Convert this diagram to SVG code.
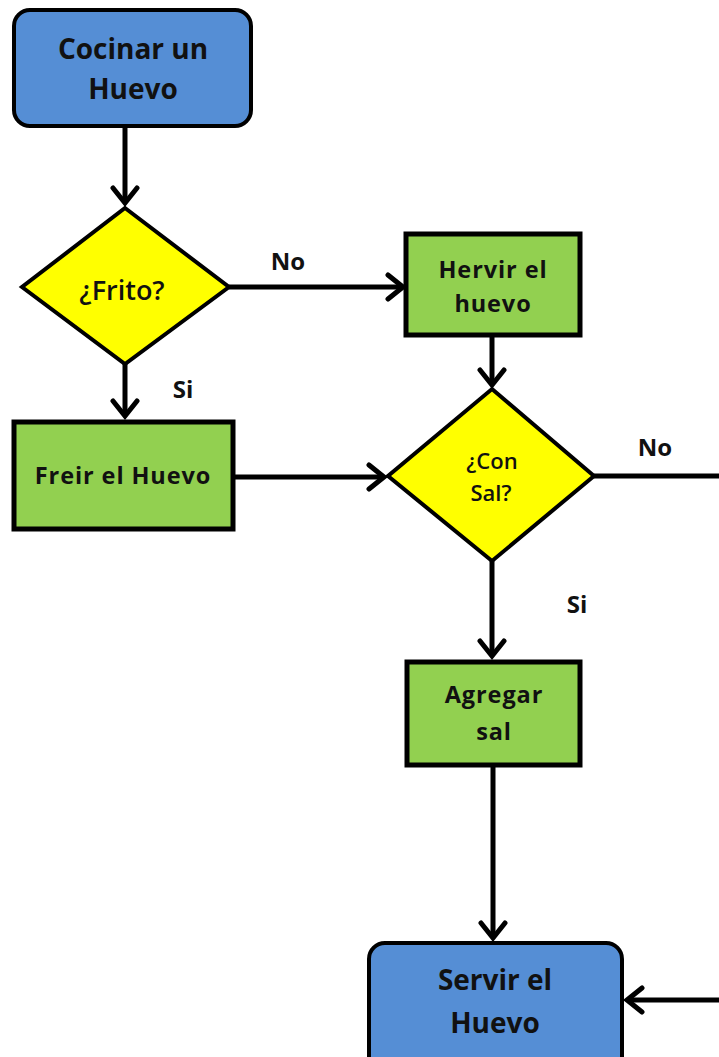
<svg xmlns="http://www.w3.org/2000/svg" width="719" height="1057" viewBox="0 0 719 1057">
<defs>
<style>
.term{fill:#558ED5;stroke:#000;stroke-width:4}
.proc{fill:#92D050;stroke:#000;stroke-width:5}
.dec{fill:#FFFF00;stroke:#000;stroke-width:4;stroke-linejoin:miter}
.t{font-family:"Open Sans","Liberation Sans",sans-serif;font-weight:bold;fill:#111;text-anchor:middle}
.big{font-size:28px}
.mid{font-size:23.5px;letter-spacing:0.9px}
.q{font-family:"Open Sans","Liberation Sans",sans-serif;font-weight:600;fill:#111;text-anchor:middle}
.lbl{font-family:"Open Sans","Liberation Sans",sans-serif;font-weight:bold;fill:#111;text-anchor:middle;font-size:24px}
.c{fill:none;stroke:#000;stroke-width:5}
</style>
<marker id="arr" markerUnits="userSpaceOnUse" markerWidth="30" markerHeight="30" viewBox="-20 -15 24 30" refX="0" refY="0" orient="auto">
<path d="M-15,-12 L0,0 L-15,12" fill="none" stroke="#000" stroke-width="5" stroke-linejoin="miter" stroke-linecap="round"/>
</marker>
</defs>
<g id="connectors">
<line class="c" x1="125" y1="126" x2="125" y2="203" marker-end="url(#arr)"/>
<line class="c" x1="229" y1="287" x2="403" y2="287" marker-end="url(#arr)"/>
<line class="c" x1="125" y1="364" x2="125" y2="416" marker-end="url(#arr)"/>
<line class="c" x1="492" y1="335" x2="492" y2="385" marker-end="url(#arr)"/>
<line class="c" x1="233" y1="477" x2="384" y2="477" marker-end="url(#arr)"/>
<line class="c" x1="594" y1="476" x2="719" y2="476"/>
<line class="c" x1="492" y1="561" x2="492" y2="656" marker-end="url(#arr)"/>
<line class="c" x1="493" y1="765" x2="493" y2="938" marker-end="url(#arr)"/>
<line class="c" x1="719" y1="1000" x2="627" y2="1000" marker-end="url(#arr)"/>
<text class="lbl" x="288" y="270">No</text>
<text class="lbl" x="183" y="398">Si</text>
<text class="lbl" x="655" y="456">No</text>
<text class="lbl" x="577" y="613">Si</text>
</g>
<g id="cocinar">
<rect class="term" x="14" y="10" width="237" height="116" rx="16"/>
<text class="t big" x="133" y="59">Cocinar un</text>
<text class="t big" x="133" y="99">Huevo</text>
</g>
<g id="frito">
<polygon class="dec" points="125,208 229,287 125,364 22,287"/>
<text class="q" x="122" y="300" font-size="27">¿Frito?</text>
</g>
<g id="hervir">
<rect class="proc" x="406" y="234" width="174" height="101"/>
<text class="t mid" x="493" y="278">Hervir el</text>
<text class="t mid" x="493" y="312">huevo</text>
</g>
<g id="freir">
<rect class="proc" x="14" y="422" width="219" height="107"/>
<text class="t mid" x="123" y="484">Freir el Huevo</text>
</g>
<g id="consal">
<polygon class="dec" points="492,389 594,476 492,561 388,476"/>
<text class="q" x="492" y="469" font-size="22">¿Con</text>
<text class="q" x="491" y="501" font-size="22">Sal?</text>
</g>
<g id="agregar">
<rect class="proc" x="407" y="662" width="173" height="103"/>
<text class="t mid" x="494" y="703">Agregar</text>
<text class="t mid" x="494" y="740">sal</text>
</g>
<g id="servir">
<rect class="term" x="369" y="943" width="253" height="130" rx="16"/>
<text class="t big" x="495" y="990">Servir el</text>
<text class="t big" x="495" y="1033">Huevo</text>
</g>
</svg>
